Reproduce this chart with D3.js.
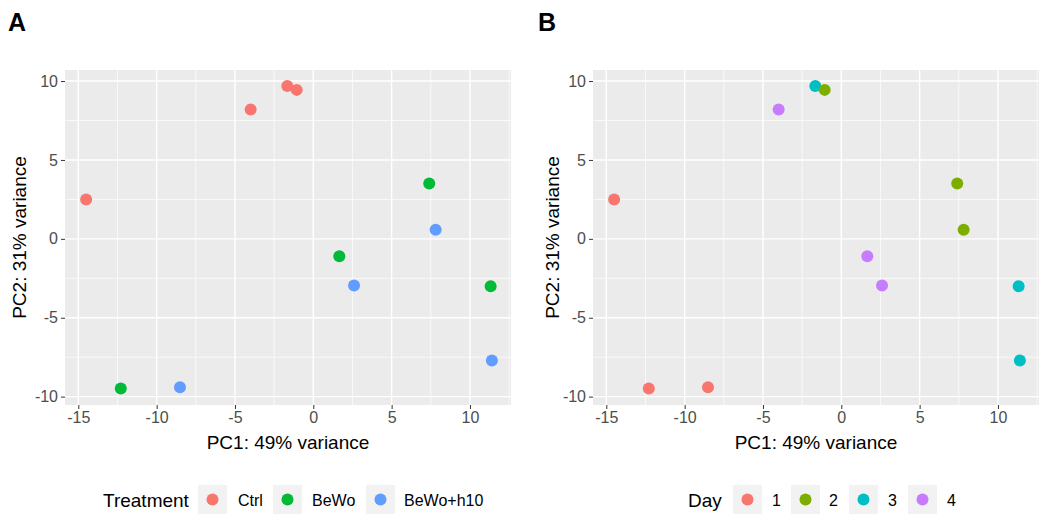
<!DOCTYPE html>
<html>
<head>
<meta charset="utf-8">
<script src="https://cdn.jsdelivr.net/npm/d3@7"></script>
<style>
  body { margin: 0; background: #fff; }
  svg { display: block; font-family: "Liberation Sans", Arial, sans-serif; }
</style>
</head>
<body>
<div id="chart"></div>
<script>
// PCA samples
const pc1 = [-14.5, -4.0, -1.66, -1.06, 7.4, 1.66, 11.32, -12.29, 7.81, 2.6, 11.4, -8.51];
const pc2 = [2.49, 8.19, 9.69, 9.44, 3.5, -1.1, -3.0, -9.48, 0.57, -2.96, -7.71, -9.4];
const treatment = ["Ctrl", "Ctrl", "Ctrl", "Ctrl", "BeWo", "BeWo", "BeWo", "BeWo",
                   "BeWo+h10", "BeWo+h10", "BeWo+h10", "BeWo+h10"];
const day = ["1", "4", "3", "2", "2", "4", "3", "1", "2", "4", "3", "1"];

const treatmentLevels = ["Ctrl", "BeWo", "BeWo+h10"];
const treatmentColors = ["#F8766D", "#00BA38", "#619CFF"];
const dayLevels = ["1", "2", "3", "4"];
const dayColors = ["#F8766D", "#7CAE00", "#00BFC4", "#C77CFF"];

const xTicks = [-15, -10, -5, 0, 5, 10];
const yTicks = [-10, -5, 0, 5, 10];

const W = 1050, H = 521;
const svg = d3.select("#chart").append("svg")
    .attr("width", W)
    .attr("height", H);

const samples = pc1.map((x, i) => ({ x, y: pc2[i], treatment: treatment[i], day: day[i] }));

function drawPanel(opts) {
    const g = svg.append("g").attr("transform", `translate(${opts.left},0)`);
    const pw = 446, top = 70, bottom = 405;

    const x = d3.scaleLinear().domain([-15.85, 12.62]).range([0, pw]);
    const y = d3.scaleLinear().domain([-10.53, 10.7]).range([bottom, top]);
    const color = d3.scaleOrdinal().domain(opts.levels).range(opts.colors);

    // panel letter
    g.append("text")
        .attr("x", opts.letterX)
        .attr("y", 31)
        .style("font-size", "25px")
        .style("font-weight", "bold")
        .text(opts.letter);

    // panel background
    g.append("rect")
        .attr("x", 0).attr("y", top)
        .attr("width", pw).attr("height", bottom - top)
        .attr("fill", "#EBEBEB");

    // minor grid
    const xMinor = [-12.5, -7.5, -2.5, 2.5, 7.5, 12.5];
    const yMinor = [-7.5, -2.5, 2.5, 7.5];
    g.selectAll(".xminor").data(xMinor).enter().append("line")
        .attr("x1", d => x(d)).attr("x2", d => x(d))
        .attr("y1", top).attr("y2", bottom)
        .attr("stroke", "#fff").attr("stroke-width", 0.7);
    g.selectAll(".yminor").data(yMinor).enter().append("line")
        .attr("x1", 0).attr("x2", pw)
        .attr("y1", d => y(d)).attr("y2", d => y(d))
        .attr("stroke", "#fff").attr("stroke-width", 0.7);

    // major grid
    g.selectAll(".xmajor").data(xTicks).enter().append("line")
        .attr("x1", d => x(d)).attr("x2", d => x(d))
        .attr("y1", top).attr("y2", bottom)
        .attr("stroke", "#fff").attr("stroke-width", 1.4);
    g.selectAll(".ymajor").data(yTicks).enter().append("line")
        .attr("x1", 0).attr("x2", pw)
        .attr("y1", d => y(d)).attr("y2", d => y(d))
        .attr("stroke", "#fff").attr("stroke-width", 1.4);

    // axes
    const xAxis = g.append("g")
        .attr("transform", `translate(0,${bottom})`)
        .call(d3.axisBottom(x).tickValues(xTicks).tickSize(4).tickPadding(3));
    const yAxis = g.append("g")
        .call(d3.axisLeft(y).tickValues(yTicks).tickSize(4).tickPadding(3));
    [xAxis, yAxis].forEach(a => {
        a.select(".domain").remove();
        a.selectAll(".tick line").attr("stroke", "#333").attr("stroke-width", 1);
        a.selectAll(".tick text")
            .attr("fill", "#4D4D4D")
            .style("font-size", "16px")
            .style("font-family", "'Liberation Sans', Arial, sans-serif");
    });
    // R prints a plain hyphen for negatives
    g.selectAll(".tick text").text(d => String(d));

    // axis titles
    g.append("text")
        .attr("x", pw / 2)
        .attr("y", 449)
        .attr("text-anchor", "middle")
        .style("font-size", "19px")
        .text("PC1: 49% variance");
    g.append("text")
        .attr("transform", `translate(${opts.yTitleX},${(top + bottom) / 2}) rotate(-90)`)
        .attr("text-anchor", "middle")
        .style("font-size", "19px")
        .text("PC2: 31% variance");

    // points
    g.selectAll(".pt").data(samples).enter().append("circle")
        .attr("cx", d => x(d.x))
        .attr("cy", d => y(d.y))
        .attr("r", 6)
        .attr("fill", d => color(d[opts.key]));

    // legend
    const leg = g.append("g");
    leg.append("text")
        .attr("x", opts.legend.titleX)
        .attr("y", 507)
        .style("font-size", "19px")
        .text(opts.legend.title);
    opts.levels.forEach((lv, i) => {
        const kx = opts.legend.keyX[i];
        leg.append("rect")
            .attr("x", kx).attr("y", 485)
            .attr("width", 29).attr("height", 29)
            .attr("fill", "#F2F2F2");
        leg.append("circle")
            .attr("cx", kx + 14.5).attr("cy", 499.5)
            .attr("r", 6)
            .attr("fill", color(lv));
        leg.append("text")
            .attr("x", opts.legend.labelX[i])
            .attr("y", 506)
            .style("font-size", "16px")
            .text(lv);
    });
}

drawPanel({
    left: 65, letter: "A", letterX: -57, key: "treatment", yTitleX: -39,
    levels: treatmentLevels, colors: treatmentColors,
    legend: { title: "Treatment", titleX: 38, keyX: [133, 208, 301], labelX: [173, 247, 339] }
});

drawPanel({
    left: 593, letter: "B", letterX: -55, key: "day", yTitleX: -34,
    levels: dayLevels, colors: dayColors,
    legend: { title: "Day", titleX: 95, keyX: [140, 198, 256, 315], labelX: [179, 236, 295, 354] }
});
</script>
</body>
</html>
